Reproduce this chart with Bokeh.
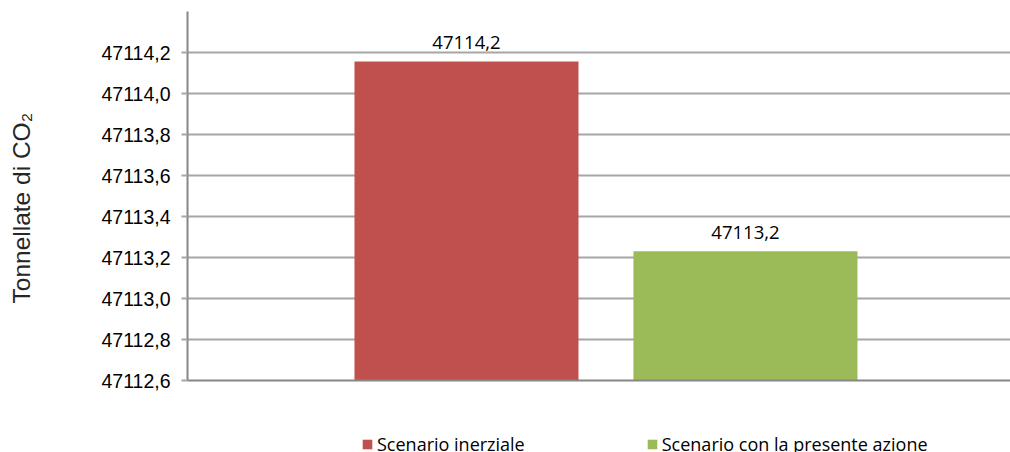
from bokeh.plotting import figure
from bokeh.layouts import column
from bokeh.models import (ColumnDataSource, Range1d, FixedTicker, CustomJSTickFormatter,
                          Legend, LegendItem, Title)
from bokeh.core.properties import value
from bokeh.embed import file_html
from bokeh.resources import INLINE

# ---- data ----
series = ["Scenario inerziale", "Scenario con la presente azione"]
values = [47114.156, 47113.231]
colors = ["#C0504D", "#9BBB59"]
positions = [0, 1]
y_ticks = [47112.6, 47112.8, 47113.0, 47113.2, 47113.4, 47113.6, 47113.8, 47114.0, 47114.2]
y_min, y_max = 47112.6, 47114.4
y_title = "Tonnellate di CO\u2082"

labels = [f"{v:.1f}".replace(".", ",") for v in values]
src = ColumnDataSource(dict(x=positions, top=values, color=colors, label=labels, name=series))

p = figure(width=1010, height=400, output_backend="svg", toolbar_location=None,
           x_range=Range1d(-1.0, 1.95), y_range=Range1d(y_min, y_max),
           min_border_left=187, min_border_right=0, min_border_top=11, min_border_bottom=20)
p.outline_line_color = None
p.background_fill_color = "white"

# grid
p.xgrid.grid_line_color = None
p.ygrid.grid_line_color = "#A6A6A6"
p.ygrid.grid_line_width = 2

# y axis
ya = p.yaxis[0]
ya.ticker = FixedTicker(ticks=y_ticks)
ya.formatter = CustomJSTickFormatter(code="return tick.toFixed(1).replace('.', ',');")
ya.axis_line_color = "#868686"
ya.axis_line_width = 2
ya.major_tick_line_color = "#A6A6A6"
ya.major_tick_line_width = 2
ya.major_tick_out = 6
ya.major_tick_in = 0
ya.minor_tick_line_color = None
ya.major_label_standoff = 11
ya.major_label_text_font = "Liberation Sans"
ya.major_label_text_font_size = "19.5px"
ya.major_label_text_color = "black"

# spacer between tick labels and the axis title
spacer = Title(text=" ", standoff=61, text_font_size="1px")
p.add_layout(spacer, "left")

# y axis title (side title, anchored at the frame bottom and shifted up)
yt = Title(text=y_title, align="left", offset=77, standoff=0, vertical_align="bottom",
           text_font="Liberation Sans", text_font_size="24.5px",
           text_font_style="normal", text_color="#262626")
p.add_layout(yt, "left")

# x axis (line only)
xa = p.xaxis[0]
xa.ticker = FixedTicker(ticks=[])
xa.axis_line_color = "#868686"
xa.axis_line_width = 2
xa.major_tick_line_color = None
xa.major_tick_out = 0
xa.major_tick_in = 0
xa.major_label_standoff = 0
xa.minor_tick_line_color = None
xa.major_label_text_font_size = "0px"

# bars
r = p.vbar(x="x", top="top", bottom=y_min, width=0.803, fill_color="color",
           line_color=None, source=src)

# data labels
p.text(x="x", y="top", text="label", source=src, text_align="center",
       text_baseline="alphabetic", y_offset=-19, text_font=value("Open Sans"),
       text_font_size="18.5px", text_color="black")

# legend strip (separate figure below the chart; its bars lie outside its range)
pl = figure(width=1010, height=52, output_backend="svg", toolbar_location=None,
            x_range=Range1d(100, 101), y_range=Range1d(0, 1),
            min_border_left=0, min_border_right=0, min_border_top=0, min_border_bottom=0)
pl.axis.visible = False
pl.grid.grid_line_color = None
pl.outline_line_color = None
rl = pl.vbar(x="x", top="top", bottom=y_min, width=0.803, fill_color="color",
             line_color=None, source=src)

legend = Legend(items=[LegendItem(label=series[i], renderers=[rl], index=i) for i in range(len(series))],
                orientation="horizontal", location=(174, -4))
legend.border_line_color = None
legend.background_fill_alpha = 0
legend.padding = 0
legend.margin = 0
legend.spacing = 121
legend.glyph_width = 12
legend.glyph_height = 12
legend.label_standoff = 4
legend.label_text_font = "Open Sans"
legend.label_text_font_size = "18px"
legend.label_text_color = "black"
legend.label_height = 12
pl.add_layout(legend, "center")

layout = column(p, pl, spacing=0)
open("out.html", "w").write(file_html(layout, INLINE))
